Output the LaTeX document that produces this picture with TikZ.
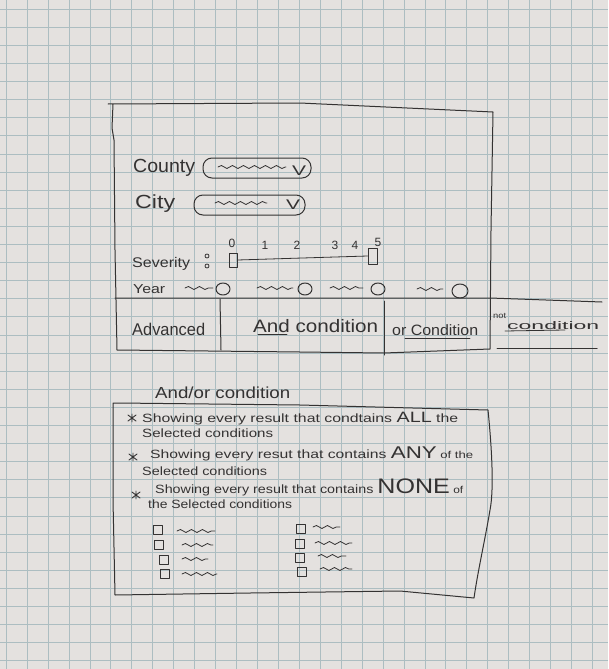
\documentclass[tikz,border=0pt]{standalone}
\usepackage{fontspec}
\setmainfont{Liberation Sans}
\usetikzlibrary{decorations.pathmorphing}
\definecolor{paper}{RGB}{228,225,223}
\definecolor{gridc}{RGB}{172,189,193}
\definecolor{pencil}{RGB}{52,50,50}
\newcommand{\hwt}[3]{\resizebox{#1pt}{\height}{\fontsize{#2}{#2}\selectfont #3}}
\newcommand{\fsz}[1]{\fontsize{#1}{#1}\selectfont}
\begin{document}
\begin{tikzpicture}[x=1pt,y=-1pt,
  ink/.style={draw=pencil,line width=1pt,line cap=round,line join=round},
  lbl/.style={text=pencil,inner sep=0pt,anchor=base west},
  num/.style={text=pencil,inner sep=0pt,anchor=center,font=\fsz{12}},
  squig/.style={ink,line width=0.8pt,decorate,decoration={snake,amplitude=1.5pt,segment length=11pt}},
  dropdown/.style={ink,rounded corners=9pt,inner sep=0pt,minimum height=20pt},
  cbox/.style={ink,line width=0.9pt,inner sep=0pt,minimum size=9pt},
  knob/.style={ink,line width=0.9pt,inner sep=0pt}
  ]
\fill[paper] (0,0) rectangle (608,669);
\useasboundingbox (0,0) rectangle (608,669);
\begin{scope}
\clip (0,0) rectangle (608,669);
\foreach \i in {0,...,29} \draw[gridc,line width=0.5pt] ({6+20.94*\i},0) -- ({6+20.94*\i},669);
\foreach \j in {0,...,36} \draw[gridc,line width=0.5pt] (0,{9+18.1*\j}) -- (608,{9+18.1*\j});
\end{scope}

% ---------- top panel ----------
\draw[ink] (108,104) -- (300,103) -- (493,112) -- (491,230) -- (490,349)
  -- (384,353) -- (300,352) -- (117,350) -- (115,250) -- (114,140) -- (112,128) -- (113,104);
\draw[ink] (115,298) -- (490,298) -- (602,302);
\draw[ink] (220,299) -- (221,350);
\draw[ink] (384,301) -- (384,355);
\draw[ink] (497,348) -- (597,348);

\node[lbl] (county) at (133,172) {\hwt{62}{19}{County}};
\node[dropdown,minimum width=108pt] (countydd) at (257,168) {};
\draw[squig] (218,167) -- (286,167);
\node[lbl] (countyv) at (292,175) {\hwt{14}{14}{V}};

\node[lbl] (city) at (135,208) {\hwt{40}{19}{City}};
\node[dropdown,minimum width=111pt] (citydd) at (249.5,205) {};
\draw[squig] (215,203) -- (267,203);
\node[lbl] (cityv) at (286,209) {\hwt{14}{14}{V}};

\node[lbl] (sev) at (132,267) {\hwt{58}{14}{Severity}};
\draw[ink,line width=0.8pt] (207,256) circle (2pt) (207,266) circle (2pt);
\node[knob,minimum width=8pt,minimum height=14pt] (kleft) at (233,260) {};
\node[knob,minimum width=9pt,minimum height=16pt] (kright) at (372.5,256) {};
\draw[ink,line width=0.8pt] (kleft.east) -- (kright.west);
\node[num] (n0) at (232,243) {0};
\node[num] (n1) at (265,245) {1};
\node[num] (n2) at (297,245) {2};
\node[num] (n3) at (335,245) {3};
\node[num] (n4) at (355,245) {4};
\node[num] (n5) at (378,242) {5};

\node[lbl] (year) at (133,293) {\hwt{32}{13}{Year}};
\draw[squig] (185,288) -- (213,288);
\draw[ink] (223,289) ellipse [x radius=7pt,y radius=6pt];
\draw[squig] (257,288) -- (293,288);
\draw[ink] (305,289) ellipse [x radius=7pt,y radius=6pt];
\draw[squig] (330,288) -- (363,288);
\draw[ink] (378,289) ellipse [x radius=7pt,y radius=6pt];
\draw[squig] (417,289) -- (443,289);
\draw[ink] (460,291) ellipse [x radius=8pt,y radius=7pt];

\node[lbl] (adv) at (132,335) {\hwt{73}{17}{Advanced}};
\node[lbl] (andc) at (253,332) {\hwt{125}{18}{And condition}};
\draw[ink,line width=0.8pt] (258,334) -- (287,334);
\node[lbl] (orc) at (392,335) {\hwt{86}{15}{or Condition}};
\draw[ink,line width=0.8pt] (405,338) -- (470,338);
\node[lbl] (notw) at (493,318) {\hwt{13}{8}{not}};
\node[lbl] (condw) at (507,329) {\hwt{92}{11}{condition}};
\draw[ink,line width=0.8pt] (505,331) -- (565,330);

% ---------- bottom panel ----------
\node[lbl] (aoc) at (155,398) {\hwt{135}{16}{And/or condition}};
\draw[ink] (118,403) -- (300,405) -- (488,410) .. controls (492,450) and (494,490) .. (490,510)
  .. controls (485,540) and (478,570) .. (474,598) -- (400,591) -- (250,593) -- (115,595)
  -- (113,500) -- (113,403) -- (118,403);

\foreach \cx/\cy in {132/418,133/457,136/495}{
  \draw[ink,line width=0.9pt] (\cx,\cy-4) -- (\cx,\cy+4)
    (\cx-4,\cy-3) -- (\cx+4,\cy+3) (\cx-4,\cy+3) -- (\cx+4,\cy-3);
}
\node[lbl] (l1) at (142,422) {\hwt{316}{12}{Showing every result that condtains \fsz{15}ALL\fsz{12} the}};
\node[lbl] (l1b) at (142,437) {\hwt{131}{12}{Selected conditions}};
\node[lbl] (l2) at (150,458) {\hwt{323}{12}{Showing every resut that contains \fsz{17}ANY\fsz{10} of the}};
\node[lbl] (l2b) at (142,475) {\hwt{125}{12}{Selected conditions}};
\node[lbl] (l3) at (155,493) {\hwt{308}{12}{Showing every result that contains \fsz{21}NONE\fsz{10} of}};
\node[lbl] (l3b) at (148,508) {\hwt{144}{12}{the Selected conditions}};

\node[cbox] (cl1) at (158,530) {};
\node[cbox] (cl2) at (159,545) {};
\node[cbox] (cl3) at (164,560) {};
\node[cbox] (cl4) at (165,574) {};
\draw[squig] (177,531) -- (215,531);
\draw[squig] (182,545) -- (213,545);
\draw[squig] (182,559) -- (208,559);
\draw[squig] (182,574) -- (217,574);

\node[cbox] (cr1) at (301,529) {};
\node[cbox] (cr2) at (300,544) {};
\node[cbox] (cr3) at (300,558) {};
\node[cbox] (cr4) at (302,572) {};
\draw[squig] (313,527) -- (340,527);
\draw[squig] (315,543) -- (352,543);
\draw[squig] (318,556) -- (346,556);
\draw[squig] (320,569) -- (352,569);
\end{tikzpicture}
\end{document}
